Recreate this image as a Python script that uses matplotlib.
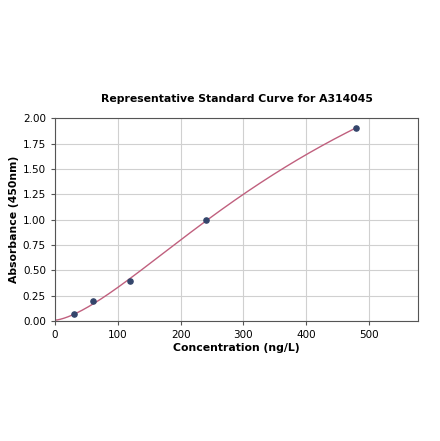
import numpy as np
import matplotlib
matplotlib.use("Agg")
import matplotlib.pyplot as plt

conc = np.array([0, 30, 60, 120, 240, 480], dtype=float)
absorb = np.array([0.0, 0.065, 0.195, 0.395, 0.995, 1.905])
title = "Representative Standard Curve for A314045"
xlabel = "Concentration (ng/L)"
ylabel = "Absorbance (450nm)"

def f4pl(x, p):
    a, b, c, d = p
    return d + (a - d) / (1.0 + (np.maximum(x, 1e-9) / c) ** b)

# Levenberg-Marquardt fit of 4PL
p = np.array([0.0, 1.6, 400.0, 4.0])
lam = 1e-2
def resid(p):
    return f4pl(conc, p) - absorb
for _ in range(500):
    r = resid(p)
    J = np.zeros((len(conc), 4))
    for k in range(4):
        dp = np.zeros(4); h = 1e-6 * max(abs(p[k]), 1.0); dp[k] = h
        J[:, k] = (resid(p + dp) - r) / h
    A = J.T @ J
    g = J.T @ r
    step = np.linalg.solve(A + lam * np.diag(np.diag(A) + 1e-12), -g)
    pn = p + step
    if pn[2] > 0 and np.sum(resid(pn) ** 2) < np.sum(r ** 2):
        p = pn; lam *= 0.5
    else:
        lam *= 4

fig = plt.figure(figsize=(4.4, 4.41), dpi=100)
ax = fig.add_axes([0.125, 0.272, 0.825, 0.46])
xs = np.linspace(0, 480, 400)
ax.plot(xs, f4pl(xs, p), color="#c0607e", lw=1.0, zorder=2)
ax.scatter(conc[1:], absorb[1:], s=14, color="#34456b", zorder=3)
ax.set_xlim(0, 578)
ax.set_ylim(0, 2.0)
ax.set_xticks([0, 100, 200, 300, 400, 500])
ax.set_yticks(np.arange(0, 2.01, 0.25))
ax.yaxis.set_major_formatter(matplotlib.ticker.FormatStrFormatter("%.2f"))
ax.grid(True, color="#d0d0d0", lw=0.8)
ax.set_axisbelow(True)
for s in ax.spines.values():
    s.set_color("#555555")
ax.tick_params(labelsize=7.5, length=3, color="#555555")
ax.set_title(title, fontsize=7.8, fontweight="bold", pad=12)
ax.set_xlabel(xlabel, fontsize=7.8, fontweight="bold", labelpad=2)
ax.set_ylabel(ylabel, fontsize=7.8, fontweight="bold", labelpad=3)
fig.savefig("out.png", dpi=100)
